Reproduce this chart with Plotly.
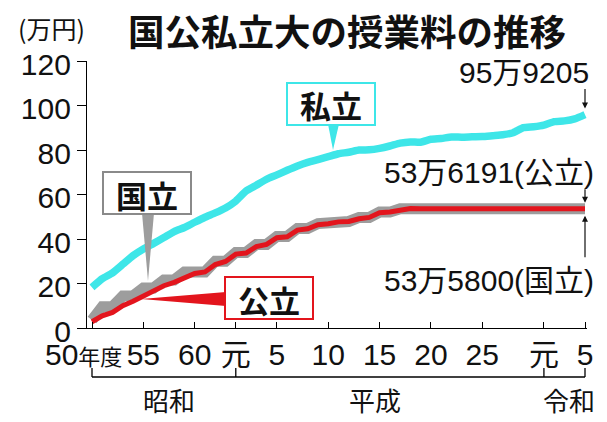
import plotly.graph_objects as go

# fiscal years, Showa 50 (1975) .. Reiwa 5 (2023)
years = list(range(1975, 2024))

# tuition, in 10,000 yen (万円)
national = [3.60, 9.60, 9.60, 14.40, 14.40, 18.00, 18.00, 21.60, 21.60, 25.20,
            25.20, 25.20, 30.00, 30.00, 33.96, 33.96, 37.56, 37.56, 41.16, 41.16,
            44.76, 44.76, 46.92, 46.92, 47.88, 47.88, 49.68, 49.68, 52.08, 52.08,
            53.58, 53.58, 53.58, 53.58, 53.58, 53.58, 53.58, 53.58, 53.58, 53.58,
            53.58, 53.58, 53.58, 53.58, 53.58, 53.58, 53.58, 53.58, 53.58]
public = [2.8, 5.5, 7.0, 10.0, 12.0, 14.5, 16.5, 19.0, 20.5, 22.5,
          24.5, 25.2, 28.5, 29.9, 33.2, 33.7, 36.6, 37.6, 40.6, 41.0,
          44.0, 44.6, 46.4, 46.9, 47.7, 47.9, 49.1, 49.7, 51.8, 52.1,
          53.1, 53.7, 53.6, 53.6, 53.7, 53.6, 53.8, 53.8, 53.8, 53.8,
          53.8, 53.8, 53.9, 53.9, 53.9, 53.9, 53.6, 53.6, 53.62]
private = [18.27, 22.18, 24.81, 28.66, 32.52, 35.52, 38.03, 40.63, 43.32, 45.17,
           47.53, 49.78, 51.74, 53.96, 57.06, 61.55, 64.16, 66.85, 68.80, 70.88,
           72.84, 74.47, 75.72, 77.00, 78.33, 78.97, 80.00, 80.07, 80.74, 81.80,
           83.06, 83.63, 83.48, 84.82, 85.16, 85.83, 85.78, 85.94, 86.03, 86.44,
           86.84, 87.77, 90.01, 90.41, 91.17, 92.77, 93.09, 94.00, 95.92]

tick_years = [1975, 1980, 1985, 1989, 1993, 1998, 2003, 2008, 2013, 2019, 2023]
tick_text = ["50<span style='font-size:22px'>年度</span>\u00a0\u00a0", "55", "60", "元", "5",
             "10", "15", "20", "25", "元", "5"]
y_ticks = [0, 20, 40, 60, 80, 100, 120]

end_labels = ["95万9205", "53万6191(公立)", "53万5800(国立)"]

CYAN = "#3ee6e8"
RED = "#e3151d"
GREY = "#9d9d9d"
FONT = "Liberation Sans, Noto Sans CJK JP, sans-serif"
JP = "Noto Sans CJK JP, sans-serif"

# plot area in pixels
L, R, T, B = 87, 587, 61, 328
W, H = R - L, B - T


def px(x):
    return (x - L) / W


def py(y):
    return (B - y) / H


def label(text, x, y, size, family=FONT, xanchor="center"):
    return dict(text=text, xref="paper", yref="paper", x=px(x), y=py(y),
                xanchor=xanchor, yanchor="middle", showarrow=False,
                font=dict(family=family, size=size, color="#111"))


fig = go.Figure()
fig.add_trace(go.Scatter(x=years, y=national, mode="lines",
                         line=dict(color=GREY, width=11), name="国立"))
fig.add_trace(go.Scatter(x=years, y=public, mode="lines",
                         line=dict(color=RED, width=5), name="公立"))
fig.add_trace(go.Scatter(x=years, y=private, mode="lines",
                         line=dict(color=CYAN, width=7.5, shape="spline", smoothing=0.5),
                         name="私立"))

shapes = []
annos = []

# label boxes with pointers
boxes = [
    ("私立", CYAN, (287, 83, 375, 125), [(328, 124), (339, 124), (333, 150)]),
    ("国立", "#8a8a8a", (103, 172, 191, 214), [(142, 213), (154, 213), (148, 281)]),
    ("公立", RED, (225, 277, 313, 319), [(226, 292), (226, 306), (141, 299)]),
]
for text, col, (x0, y0, x1, y1), tri in boxes:
    fill = GREY if text == "国立" else col
    path = "M {} {} L {} {} L {} {} Z".format(px(tri[0][0]), py(tri[0][1]),
                                               px(tri[1][0]), py(tri[1][1]),
                                               px(tri[2][0]), py(tri[2][1]))
    shapes.append(dict(type="path", path=path, xref="paper", yref="paper",
                       fillcolor=fill, line=dict(width=0), layer="above"))
    shapes.append(dict(type="rect", xref="paper", yref="paper",
                       x0=px(x0), x1=px(x1), y0=py(y1), y1=py(y0),
                       fillcolor="white", line=dict(color=col, width=2), layer="above"))
    annos.append(label("<b>" + text + "</b>", (x0 + x1) / 2, (y0 + y1) / 2 + 1, 31, JP))

# end value labels + arrows
annos.append(label(end_labels[0], 591, 72, 30, xanchor="right"))
annos.append(label(end_labels[1], 596, 172, 30, xanchor="right"))
annos.append(label(end_labels[2], 596, 280, 30, xanchor="right"))
arrow = dict(text="", showarrow=True, arrowhead=2, arrowsize=1, arrowwidth=1.2,
             arrowcolor="#111", ax=0, xref="x", yref="y")
annos.append(dict(arrow, x=years[-1], y=private[-1], ay=-27, standoff=6))
annos.append(dict(arrow, x=years[-1], y=public[-1], ay=-21, standoff=6))
annos.append(dict(arrow, x=years[-1], y=national[-1], ay=50, standoff=7))

# era bracket below the axis
shapes.append(dict(type="line", xref="x", yref="paper", x0=1975, x1=2023,
                   y0=py(377), y1=py(377), line=dict(color="black", width=1.3)))
for yr in [1975, 1989, 2019, 2023]:
    shapes.append(dict(type="line", xref="x", yref="paper", x0=yr, x1=yr,
                       y0=py(377), y1=py(368), line=dict(color="black", width=1.3)))
for name, xc in [("昭和", 169), ("平成", 375), ("令和", 569)]:
    annos.append(label(name, xc, 399, 26, JP))

# title and unit
annos.append(label("<b>国公私立大の授業料の推移</b>", 347, 31, 36.5, JP))
annos.append(label("(万円)", 51, 28, 25, JP))

px_per_year = (585 - 92) / 48
fig.update_layout(
    width=607, height=422,
    margin=dict(l=L, r=607 - R, t=T, b=422 - B, autoexpand=False),
    paper_bgcolor="white", plot_bgcolor="white",
    showlegend=False,
    shapes=shapes, annotations=annos,
    xaxis=dict(range=[1975 - 5 / px_per_year, 2023 + 2 / px_per_year],
               tickvals=tick_years, ticktext=tick_text, tickangle=0,
               ticks="inside", ticklen=6, tickcolor="black",
               showline=True, linecolor="black", linewidth=1.3,
               showgrid=False, zeroline=False, automargin=False,
               tickfont=dict(family=FONT, size=30, color="#111")),
    yaxis=dict(range=[0, 120], tickvals=y_ticks, ticklabelshift=3,
               ticks="outside", ticklen=9, tickcolor="black",
               showline=True, linecolor="black", linewidth=1.3,
               showgrid=False, zeroline=False, automargin=False,
               tickfont=dict(family=FONT, size=30, color="#111")),
)

fig.write_html("out.html", config={"displayModeBar": False},
               post_script="document.body.style.margin = '0';")
